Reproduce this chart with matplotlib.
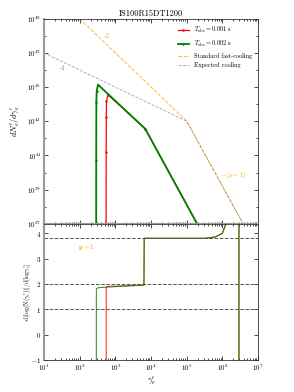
import matplotlib
matplotlib.use("Agg")
import matplotlib.pyplot as plt
import numpy as np
from matplotlib.ticker import LogLocator, NullFormatter, MultipleLocator, FixedLocator

plt.rcParams['font.family'] = 'serif'
plt.rcParams['font.serif'] = ['cmr10', 'DejaVu Serif']
plt.rcParams['mathtext.fontset'] = 'cm'
plt.rcParams['axes.unicode_minus'] = False
plt.rcParams['axes.formatter.use_mathtext'] = True

title = "IS100R15DT1200"

# spectra dN/dgamma (top panel)
red_gamma = [548, 550, 553, 560, 617, 6800, 1.95e5, 1.0e6]
red_N = [1e36, 1.6e41, 1.9e43, 1.5e44, 3.6e44, 3.7e42, 1e37, 2e34]
green_gamma = [288, 289, 292, 298, 324, 6800, 1.95e5, 1.0e6]
green_N = [1e36, 5.6e40, 1.3e44, 6e44, 1.4e45, 3.7e42, 1e37, 2e34]

std_gamma = [1e2, 1e5, 3.8e6]
std_N = [1e49, 1e43, 1e37]
exp_gamma = [1e1, 1e5, 3.8e6]
exp_N = [1e47, 1e43, 1e37]
ytick_vals = [1e37, 1e39, 1e41, 1e43, 1e45, 1e47, 1e49]

# local slope -dlogN/dlogγ (bottom panel)
red_idx_gamma = [550, 552, 620, 1000, 3000, 6300, 6400, 1e5, 3.2e5, 6.3e5, 1e6, 1.35e6, 2.9e6, 2.9e6]
red_idx = [-5, 1.88, 1.9, 1.91, 1.93, 1.95, 3.8, 3.8, 3.8, 3.85, 4.0, 4.5, 50, -50]
green_idx_gamma = [290, 292, 330, 1000, 3000, 6300, 6400, 1e5, 3.2e5, 6.3e5, 1e6, 1.35e6, 2.9e6, 2.9e6]
green_idx = [-5, 1.8, 1.85, 1.89, 1.93, 1.95, 3.8, 3.8, 3.8, 3.85, 4.0, 4.5, 50, -50]
ref_levels = [1, 2, 3.8]

fig = plt.figure(figsize=(2.94, 3.92), dpi=100)
ax1 = fig.add_axes([0.150, 0.429, 0.728, 0.523])
ax2 = fig.add_axes([0.150, 0.082, 0.728, 0.347], sharex=ax1)

fs = 5
ax1.plot(red_gamma, red_N, color='red', lw=0.9, marker='.', ms=1.5,
         label=r"$T_{\rm obs}=$0.001 s")
ax1.plot(green_gamma, green_N, color='green', lw=1.3, marker='.', ms=1.5,
         label=r"$T_{\rm obs}=$0.002 s")
ax1.plot(std_gamma, std_N, color='orange', ls='--', lw=0.7, alpha=0.8,
         label="Standard fast-cooling")
ax1.plot(exp_gamma, exp_N, color='gray', ls='--', lw=0.6, alpha=0.7,
         label="Expected cooling")
ax1.set_xscale('log')
ax1.set_yscale('log')
ax1.set_xlim(1e1, 1e7)
ax1.set_ylim(1e37, 1e49)
ax1.yaxis.set_major_locator(FixedLocator(ytick_vals))
ax1.yaxis.set_minor_locator(LogLocator(base=10, subs=[1.0], numticks=20))
ax1.yaxis.set_minor_formatter(NullFormatter())
ax1.set_ylabel(r"$dN_e'/d\gamma_e'$", fontsize=fs + 1)
ax1.set_title(title, fontsize=fs + 1, pad=2)
ax1.text(10**2.76, 10**48.0, "-2", color='orange', fontsize=fs, ha='center', va='center')
ax1.text(10**1.53, 10**46.1, "-1", color='gray', fontsize=fs, ha='center', va='center')
ax1.text(10**6.3, 10**39.8, r"$-(p+1)$", color='orange', fontsize=fs, ha='center', va='center')
ax1.legend(loc='upper right', fontsize=fs - 0.5, frameon=False, handlelength=1.8,
           labelspacing=0.6, borderaxespad=0.6)
plt.setp(ax1.get_xticklabels(), visible=False)

ax2.plot(red_idx_gamma, red_idx, color='red', lw=0.8, alpha=0.8)
ax2.plot(green_idx_gamma, green_idx, color='green', lw=0.8, alpha=0.8)
for lv in ref_levels:
    ax2.axhline(lv, color='#555555', ls='--', lw=0.7)
ax2.text(10**2.18, 3.47, r"$\mathbf{p+1}$", color='orange', fontsize=fs, ha='center', va='center')
ax2.set_ylim(-1, 4.37)
ax2.yaxis.set_major_locator(MultipleLocator(1))
ax2.set_xlabel(r"$\gamma_e'$", fontsize=fs + 1, labelpad=1)
ax2.set_ylabel(r"-d[log(N($\gamma_e'$))]/d[log$\gamma_e'$]", fontsize=4.3)
ax2.xaxis.set_major_locator(LogLocator(base=10, numticks=10))
ax2.xaxis.set_minor_locator(LogLocator(base=10, subs=np.arange(2, 10), numticks=20))
ax2.xaxis.set_minor_formatter(NullFormatter())

for ax in (ax1, ax2):
    ax.tick_params(which='both', direction='in', top=True, right=True,
                   labelsize=fs, width=0.5, pad=2)
    ax.tick_params(which='major', length=3)
    ax.tick_params(which='minor', length=1.5)
    for s in ax.spines.values():
        s.set_linewidth(0.6)
        s.set_color('#333333')
    ax.spines['left'].set_color('#999999')
    ax.spines['left'].set_linewidth(1.5)
ax1.spines['bottom'].set_color('#999999')
ax1.spines['bottom'].set_linewidth(1.5)

ax1.yaxis.set_label_coords(-0.107, 0.5)
ax2.yaxis.set_label_coords(-0.05, 0.5)

fig.savefig("out.png", dpi=100)
